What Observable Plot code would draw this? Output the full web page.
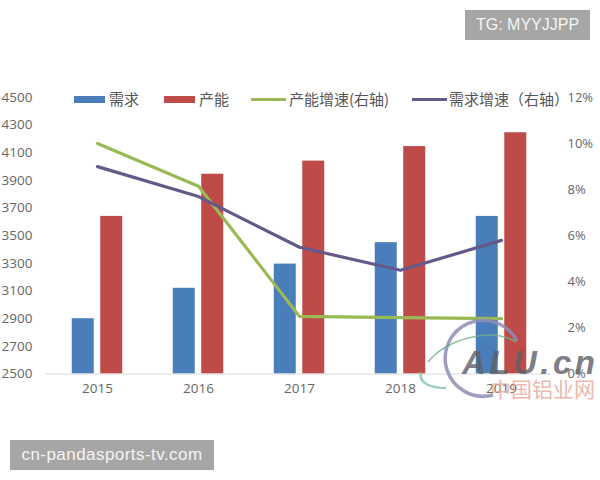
<!DOCTYPE html>
<html lang="zh">
<head>
<meta charset="utf-8">
<script src="https://cdn.jsdelivr.net/npm/d3@7"></script>
<script src="https://cdn.jsdelivr.net/npm/@observablehq/plot@0.6"></script>
<style>
html,body{margin:0;padding:0;background:#fff;width:600px;height:480px;overflow:hidden;position:relative;font-family:"Noto Sans CJK SC","Open Sans",sans-serif}
#chart{position:absolute;left:0;top:0}
.lg{position:absolute;top:89px;font-size:15px;line-height:20px;color:#555;white-space:nowrap}
.sw{position:absolute;height:7px;top:95.5px}
.ln{position:absolute;height:3.5px;top:97.5px}
.tag{position:absolute;background:#a6a6a6;color:#f4f4f4;font-family:"Liberation Sans",sans-serif;text-align:center}
.wm{position:absolute;white-space:nowrap}
#arcs{position:absolute;left:0;top:0}
</style>
</head>
<body>
<div id="chart"></div>
<svg id="arcs" width="600" height="480" fill="none">
  <path d="M517 341 A38 38 0 1 0 493 395" stroke="#8f8db5" stroke-width="3.5" opacity=".85"/>
  <path d="M516 342 C490 326 446 340 428 362" stroke="#6fb08a" stroke-width="1.6" opacity=".8"/>
  <path d="M421 372 C418 384 432 388 446 388" stroke="#7fc6a4" stroke-width="2.5" opacity=".8"/>
</svg>
<div class="wm" style="left:462px;top:344px;font:italic bold 33px 'Liberation Sans',sans-serif;color:#5f6068;letter-spacing:3.5px;opacity:.8">ALU.cn</div>
<div class="wm" style="left:490px;top:376px;font-size:21px;line-height:24px;color:#e8a898;opacity:.8">中国铝业网</div>
<div class="sw" style="left:74px;width:31px;background:#4a7ebb"></div><div class="lg" style="left:109px">需求</div>
<div class="sw" style="left:164px;width:31px;background:#be4b48"></div><div class="lg" style="left:199px">产能</div>
<div class="ln" style="left:251px;width:35px;background:#98b954"></div><div class="lg" style="left:289px">产能增速(右轴)</div>
<div class="ln" style="left:412px;width:35px;background:#65598a"></div><div class="lg" style="left:449px">需求增速（右轴）</div>
<div class="tag" style="left:465px;top:10px;width:125px;height:30px;line-height:30px;font-size:16px">TG: MYYJJPP</div>
<div class="tag" style="left:10px;top:440px;width:204px;height:30px;line-height:30px;font-size:17px;letter-spacing:.45px">cn-pandasports-tv.com</div>
<script>
const years = ["2015","2016","2017","2018","2019"];
const demand = [2900,3120,3295,3450,3640];
const capacity = [3640,3945,4040,4145,4245];
const capacityGrowth = [10.0,8.15,2.5,2.45,2.4];
const demandGrowth = [9.0,7.7,5.5,4.5,5.8];
const leftTicks = [2500,2700,2900,3100,3300,3500,3700,3900,4100,4300,4500];
const rightTicks = [0,2,4,6,8,10,12];

const toLeft = d3.scaleLinear([0,12],[2500,4500]);
const rows = years.map((year,i)=>({year,demand:demand[i],capacity:capacity[i],
  capG:toLeft(capacityGrowth[i]),demG:toLeft(demandGrowth[i])}));

const plot = Plot.plot({
  width:600,height:480,
  marginLeft:46,marginRight:49,marginTop:97,marginBottom:106.5,
  style:{fontFamily:"'Open Sans',sans-serif",fontSize:"13px",color:"#666",background:"transparent"},
  x:{domain:years,type:"band",paddingInner:0.787,paddingOuter:0.3935,align:0.5,label:null},
  y:{domain:[2500,4500],label:null},
  marks:[
    Plot.axisX({tickSize:0,tickPadding:9,fontSize:13.5,label:null}),
    Plot.axisY({anchor:"left",ticks:leftTicks,tickSize:0,tickPadding:14,fontSize:13.5,label:null,tickFormat:d=>String(d)}),
    Plot.axisY({anchor:"right",ticks:rightTicks.map(p=>toLeft(p)),tickSize:0,tickPadding:16,fontSize:13,label:null,
      tickFormat:d=>Math.round(toLeft.invert(d))+"%"}),
    Plot.barY(rows,{x:"year",y1:2500,y2:"demand",fill:"#4a7ebb",dx:-14.25}),
    Plot.barY(rows,{x:"year",y1:2500,y2:"capacity",fill:"#be4b48",dx:14.25}),
    Plot.ruleY([2500],{stroke:"#d9d9d9"}),
    Plot.line(rows,{x:"year",y:"capG",stroke:"#98b954",strokeWidth:3.2}),
    Plot.line(rows,{x:"year",y:"demG",stroke:"#65598a",strokeWidth:3.2})
  ]
});
document.getElementById("chart").appendChild(plot);
</script>
</body>
</html>
